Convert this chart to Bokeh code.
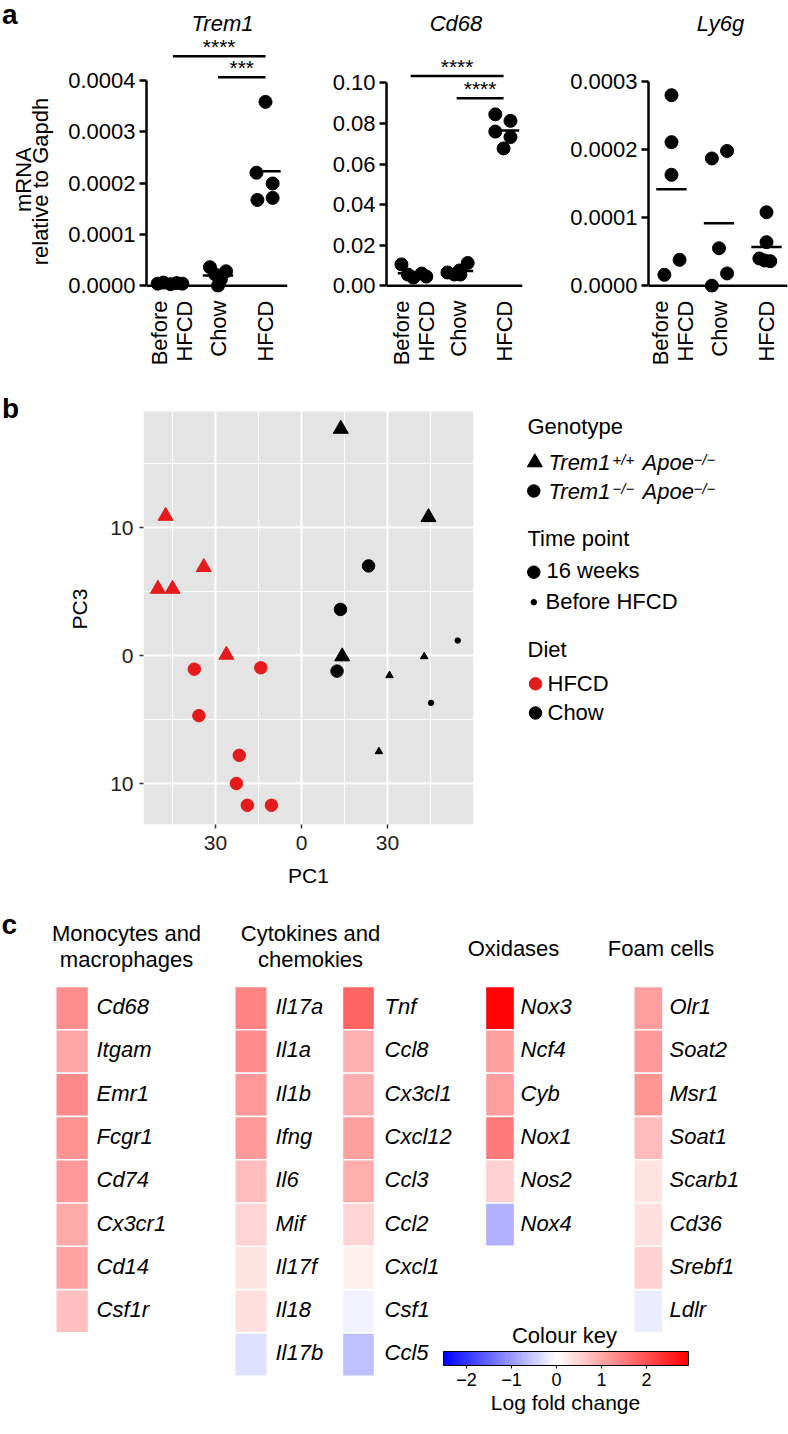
import numpy as np
from math import pi
from bokeh.plotting import figure
from bokeh.models import (Range1d, FixedTicker, Span, ColumnDataSource,
                          LinearColorMapper, ColorBar, NumeralTickFormatter)
from bokeh.layouts import column, row
from bokeh.embed import file_html
from bokeh.resources import INLINE
from bokeh.core.properties import value, field

FONT = "Liberation Sans"
BASE_SHIFT = 0.37   # raise alphabetic-baseline texts by this fraction of their size

# ===================== Panel a data =====================
a_groups = ["Before HFCD", "Chow", "HFCD"]
a_tick_pos = [0.76, 1.3, 2, 3]
a_tick_text = ["Before", "HFCD", "Chow", "HFCD"]

trem1_before = [0.000004, 0.000006, 0.000003, 0.000005, 0.000004]
trem1_chow = [0.000036, 0.000028, 0.000022, 0.000012, 0.000000]
trem1_hfcd = [0.000358, 0.000220, 0.000199, 0.000167, 0.000171]

cd68_before = [0.0105, 0.0055, 0.0060, 0.0040, 0.0045]
cd68_chow = [0.0065, 0.0055, 0.0055, 0.0075, 0.0112]
cd68_hfcd = [0.0845, 0.0813, 0.0760, 0.0733, 0.0677]

ly6g_before = [0.000280, 0.000211, 0.000163, 0.000016, 0.000038]
ly6g_chow = [0.000187, 0.000198, 0.000055, 0.000000, 0.000018]
ly6g_hfcd = [0.000108, 0.000064, 0.000040, 0.000036, 0.000037]

# horizontal jitter of the dots inside each group (category units)
trem1_jitter = [[-0.27, -0.15, 0.0, 0.13, 0.25], [-0.17, 0.17, -0.06, 0.06, 0.0], [0.0, -0.19, 0.15, -0.17, 0.15]]
cd68_jitter = [[-0.24, -0.1, 0.2, 0.02, 0.3], [-0.24, -0.09, 0.04, 0.02, 0.2], [-0.2, 0.13, -0.2, 0.13, -0.02]]
ly6g_jitter = [[0.0, 0.0, 0.0, -0.15, 0.17], [-0.15, 0.17, 0.0, -0.15, 0.17], [0.0, 0.0, -0.15, 0.08, -0.04]]

# significance brackets: (label, from group, to group, height)
trem1_sig = [("****", 1.05, 3.0, 0.000447), ("***", 2.0, 3.0, 0.000406)]
cd68_sig = [("****", 0.96, 2.98, 0.1034), ("****", 1.96, 2.98, 0.0925)]
ly6g_sig = []

# ===================== Panel b data =====================
pc1 = [-47.4, -34.1, -50.1, -45.0, -26.2,
       -37.4, -14.2, -35.8, -21.7, -22.7, -18.9, -10.5,
       13.7, 44.3, 14.2,
       23.4, 13.6, 12.4,
       42.8, 30.7, 27.0,
       54.5, 45.2]
pc3 = [10.9, 6.9, 5.2, 5.2, 0.05,
       -1.07, -0.96, -4.7, -7.8, -10.0, -11.7, -11.7,
       17.7, 10.8, -0.08,
       7.0, 3.6, -1.22,
       -0.08, -1.56, -7.5,
       1.17, -3.7]
genotype = (["Trem1+/+"] * 5 + ["Trem1-/-"] * 7 + ["Trem1+/+"] * 3 + ["Trem1-/-"] * 3
            + ["Trem1+/+"] * 3 + ["Trem1-/-"] * 2)
timepoint = ["16 weeks"] * 18 + ["Before HFCD"] * 5
diet = ["HFCD"] * 12 + ["Chow"] * 11
pb_x_ticks = [-30, 0, 30]
pb_x_tick_text = ["30", "0", "30"]
pb_y_ticks = [-10, 0, 10]
pb_y_tick_text = ["10", "0", "10"]

# ===================== Panel c data =====================
mono_genes = ["Cd68", "Itgam", "Emr1", "Fcgr1", "Cd74", "Cx3cr1", "Cd14", "Csf1r"]
mono_lfc = [1.30, 1.03, 1.37, 1.23, 1.18, 0.98, 1.05, 0.72]
cyto1_genes = ["Il17a", "Il1a", "Il1b", "Ifng", "Il6", "Mif", "Il17f", "Il18", "Il17b"]
cyto1_lfc = [1.41, 1.32, 1.17, 1.16, 0.76, 0.49, 0.33, 0.36, -0.31]
cyto2_genes = ["Tnf", "Ccl8", "Cx3cl1", "Cxcl12", "Ccl3", "Ccl2", "Cxcl1", "Csf1", "Ccl5"]
cyto2_lfc = [1.78, 0.91, 0.93, 1.10, 0.95, 0.49, 0.17, -0.15, -0.62]
oxi_genes = ["Nox3", "Ncf4", "Cyb", "Nox1", "Nos2", "Nox4"]
oxi_lfc = [2.90, 1.09, 1.11, 1.53, 0.54, -0.78]
foam_genes = ["Olr1", "Soat2", "Msr1", "Soat1", "Scarb1", "Cd36", "Srebf1", "Ldlr"]
foam_lfc = [1.11, 1.16, 1.21, 0.77, 0.33, 0.36, 0.52, -0.19]
key_ticks = [-2, -1, 0, 1, 2]
key_tick_text = ["\u22122", "\u22121", "0", "1", "2"]
key_low, key_high = -2.51, 2.93


# ===================== helpers =====================
def txt(p, x, y, s, size=22, style="normal", align="left", baseline="alphabetic",
        color="black", angle=0):
    off = -BASE_SHIFT * size if baseline == "alphabetic" else 0
    p.text(x=[x], y=[y], text=[s], text_font=value(FONT), text_font_size="%dpx" % size,
           text_font_style=style, text_align=align, text_baseline=baseline,
           text_color=color, angle=angle, y_offset=off)


def blank(width, height, xr, yr, bt=0, bb=0):
    p = figure(width=width, height=height, x_range=Range1d(*xr), y_range=Range1d(*yr),
               output_backend="svg", toolbar_location=None,
               x_axis_location=None, y_axis_location=None,
               min_border_left=0, min_border_right=0, min_border_top=bt, min_border_bottom=bb)
    p.outline_line_color = None
    p.grid.grid_line_color = None
    return p


A_H, A_BT, A_BB = 368, 0, 68          # row a: frame from y=0 to y=300 (page px)


def dot_panel(gene, series, jitters, page_left, width, bl, br, g1_px, ppc, upp,
              yticks, yfmt, sigs, title_px):
    frame_top = A_BT
    frame_bot = A_H - A_BB
    zero = frame_bot - 7
    fl = page_left + bl
    fr = page_left + width - br

    def X(px):
        return 1 + (px - g1_px) / ppc

    def Y(py):
        return (zero - py) * upp

    p = figure(width=width, height=A_H,
               x_range=Range1d(X(fl), X(fr)), y_range=Range1d(Y(frame_bot), Y(frame_top)),
               output_backend="svg", toolbar_location=None,
               min_border_left=bl, min_border_right=br, min_border_top=A_BT, min_border_bottom=A_BB)
    p.outline_line_color = None
    p.xgrid.grid_line_color = None
    p.ygrid.grid_line_color = None

    yax = p.yaxis[0]
    yax.ticker = FixedTicker(ticks=yticks)
    yax.formatter = NumeralTickFormatter(format=yfmt)
    yax.bounds = (0, yticks[-1])
    yax.axis_line_width = 2.5
    yax.major_tick_line_width = 2.5
    yax.major_tick_out = 7
    yax.major_tick_in = 0
    yax.minor_tick_line_color = None
    yax.major_label_text_font = FONT
    yax.major_label_text_font_size = "22px"
    yax.major_label_text_color = "black"
    yax.major_label_standoff = 4

    xax = p.xaxis[0]
    xax.ticker = FixedTicker(ticks=a_tick_pos)
    xax.major_label_overrides = dict(zip(a_tick_pos, a_tick_text))
    xax.major_label_orientation = pi / 2
    xax.axis_line_color = None
    xax.major_tick_line_color = None
    xax.minor_tick_line_color = None
    xax.major_label_standoff = 2
    xax.major_label_text_font = FONT
    xax.major_label_text_font_size = "22px"
    xax.major_label_text_color = "black"

    p.add_layout(Span(location=0, dimension="width", line_color="black", line_width=2.5))

    for gi, (vals, jit) in enumerate(zip(series, jitters)):
        g = gi + 1
        p.scatter([g + j for j in jit], vals, size=13, color="black")
        m = float(np.mean(vals))
        p.segment(x0=[g - 0.32], x1=[g + 0.32], y0=[m], y1=[m], line_width=2.5, color="black")

    for stars, x0, x1, yv in sigs:
        p.segment(x0=[x0], x1=[x1], y0=[yv], y1=[yv], line_width=2.5, color="black")
        p.text(x=[(x0 + x1) / 2], y=[yv], text=[stars], y_offset=-1.5 - BASE_SHIFT * 21,
               text_font=value(FONT), text_font_size="21px", text_align="center",
               text_baseline="alphabetic", text_color="black")

    txt(p, X(title_px), Y(31.5), gene, style="italic", align="center")
    return p


# strip with panel letter and y-axis title (page-pixel coordinates)
sA = blank(60, A_H, (0, 60), (A_H - A_BB, 0), bt=A_BT, bb=A_BB)
txt(sA, 1.5, 14, "a", size=28, style="bold", baseline="middle")
txt(sA, 22.5, 184, "mRNA", align="center", baseline="middle", angle=pi / 2)
txt(sA, 39.5, 186, "relative to Gapdh", align="center", baseline="middle", angle=pi / 2)

a1 = dot_panel("Trem1", [trem1_before, trem1_chow, trem1_hfcd], trem1_jitter,
               60, 240, 86, 13, 170, 47.5, 0.0001 / 52.75,
               [0, 0.0001, 0.0002, 0.0003, 0.0004], "0.0000", trem1_sig, 222)
a2 = dot_panel("Cd68", [cd68_before, cd68_chow, cd68_hfcd], cd68_jitter,
               300, 260, 86, 38, 412, 46, 0.02 / 41.66,
               [0, 0.02, 0.04, 0.06, 0.08, 0.10], "0.00", cd68_sig, 455.5)
a3 = dot_panel("Ly6g", [ly6g_before, ly6g_chow, ly6g_hfcd], ly6g_jitter,
               560, 228, 88, 1, 671, 47.5, 0.0001 / 69.9,
               [0, 0.0001, 0.0002, 0.0003], "0.0000", ly6g_sig, 720)

# ===================== Panel b =====================
B_TOP, B_H, B_BT, B_BB = 368, 527, 25, 71      # frame from page y 393 to 824
RED = "#e41a1c"
marker_of = {"Trem1+/+": "triangle", "Trem1-/-": "circle"}
size_of = {("triangle", "16 weeks"): 15, ("circle", "16 weeks"): 12.5,
           ("triangle", "Before HFCD"): 7.5, ("circle", "Before HFCD"): 5.5}
color_of = {"HFCD": RED, "Chow": "black"}
mk = [marker_of[g] for g in genotype]
src_b = ColumnDataSource(dict(
    pc1=pc1, pc3=pc3, marker=mk,
    size=[size_of[(m, t)] for m, t in zip(mk, timepoint)],
    color=[color_of[d] for d in diet]))

px_x, px_y = 86 / 30, 12.8                     # pixels per PC unit
pb_xr = (-(301 - 143) / px_x, (473 - 301) / px_x)
pb_panel_top = (655 - 411) / px_y
pb_yr = (-(824 - 655) / px_y, (655 - 393) / px_y)

pb = figure(width=430, height=B_H, x_range=Range1d(*pb_xr), y_range=Range1d(*pb_yr),
            output_backend="svg", toolbar_location=None,
            min_border_left=83, min_border_right=17, min_border_top=B_BT, min_border_bottom=B_BB)
pb.background_fill_color = "white"
pb.outline_line_color = None
pb.quad(left=[pb_xr[0]], right=[pb_xr[1]], bottom=[pb_yr[0]], top=[pb_panel_top],
        fill_color="#e4e4e4", line_color=None, level="image")
pb.xaxis.ticker = FixedTicker(ticks=pb_x_ticks, minor_ticks=[-45, -15, 15, 45])
pb.yaxis.ticker = FixedTicker(ticks=pb_y_ticks, minor_ticks=[-5, 5, 15])
pb.xaxis.major_label_overrides = dict(zip(pb_x_ticks, pb_x_tick_text))
pb.yaxis.major_label_overrides = dict(zip(pb_y_ticks, pb_y_tick_text))
for g in (pb.xgrid[0], pb.ygrid[0]):
    g.grid_line_color = "white"
    g.grid_line_width = 2
    g.minor_grid_line_color = "white"
    g.minor_grid_line_width = 1.2
for ax in (pb.xaxis[0], pb.yaxis[0]):
    ax.axis_line_color = None
    ax.major_tick_line_color = "#333333"
    ax.major_tick_line_width = 1.5
    ax.major_tick_out = 4
    ax.major_tick_in = 0
    ax.minor_tick_line_color = None
    ax.major_label_text_font = FONT
    ax.major_label_text_font_size = "21px"
    ax.major_label_text_color = "#222222"
    ax.axis_label_text_font = FONT
    ax.axis_label_text_font_size = "21px"
    ax.axis_label_text_font_style = "normal"
    ax.axis_label_text_color = "black"
pb.xaxis.axis_label = "PC1"
pb.yaxis.axis_label = "PC3"
pb.xaxis.major_label_standoff = 7
pb.yaxis.major_label_standoff = 6
pb.xaxis.axis_label_standoff = 11
pb.yaxis.axis_label_standoff = 16
pb.scatter("pc1", "pc3", marker=field("marker"), size="size", color="color", source=src_b)

sB = blank(60, B_H, (0, 60), (B_TOP + B_H - B_BB, B_TOP + B_BT), bt=B_BT, bb=B_BB)
txt(sB, 1.5, 418, "b", size=28, style="bold")

# ---- legend for panel b (page-pixel coordinates) ----
leg = blank(298, B_H, (490, 788), (B_TOP + B_H - B_BB, B_TOP + B_BT), bt=B_BT, bb=B_BB)
txt(leg, 527, 434.5, "Genotype")
leg.scatter([534.3], [462], marker="triangle", size=15, color="black")
txt(leg, 548, 470, "Trem1", style="italic")
txt(leg, 612, 465, "+/+", size=15, style="italic")
txt(leg, 642, 470, "Apoe", style="italic")
txt(leg, 693, 465, "\u2212/\u2212", size=15, style="italic")
leg.scatter([533.3], [490.5], marker="circle", size=12.5, color="black")
txt(leg, 548, 499, "Trem1", style="italic")
txt(leg, 612, 494, "\u2212/\u2212", size=15, style="italic")
txt(leg, 642, 499, "Apoe", style="italic")
txt(leg, 693, 494, "\u2212/\u2212", size=15, style="italic")
txt(leg, 527, 546.5, "Time point")
leg.scatter([533.3], [571.7], marker="circle", size=12.5, color="black")
txt(leg, 546, 578.5, "16 weeks")
leg.scatter([533.3], [601.7], marker="circle", size=5.5, color="black")
txt(leg, 545, 609, "Before HFCD")
txt(leg, 527, 657.5, "Diet")
leg.scatter([535], [683.3], marker="circle", size=12.5, color=RED)
txt(leg, 547, 690.7, "HFCD")
leg.scatter([535], [712.5], marker="circle", size=12.5, color="black")
txt(leg, 547, 720, "Chow")

# ===================== Panel c =====================
pal = []
for i in range(256):
    v = key_low + (key_high - key_low) * i / 255
    if v < 0:
        c = int(round(255 * (1 - v / key_low)))
        pal.append("#%02x%02x%02x" % (c, c, 255))
    else:
        c = int(round(255 * (1 - v / key_high)))
        pal.append("#%02x%02x%02x" % (255, c, c))
mapper = LinearColorMapper(palette=pal, low=key_low, high=key_high)

C_TOP, C_H = 895, 535
pc = blank(788, C_H, (0, 788), (C_TOP + C_H, C_TOP))

row_top, row_h = 986, 43.3
heat_cols = [
    (mono_genes, mono_lfc, 56, 31.3, 96),
    (cyto1_genes, cyto1_lfc, 235, 31, 275),
    (cyto2_genes, cyto2_lfc, 342.7, 30.6, 384),
    (oxi_genes, oxi_lfc, 485.7, 27.6, 520),
    (foam_genes, foam_lfc, 634, 27.7, 669),
]
hx, hy, hw, hv, lx, ly, ln = [], [], [], [], [], [], []
for genes, vals, left, w, lab_x in heat_cols:
    for i, (gname, v) in enumerate(zip(genes, vals)):
        cy = row_top + (i + 0.5) * row_h
        hx.append(left + w / 2)
        hy.append(cy)
        hw.append(w)
        hv.append(v)
        lx.append(lab_x)
        ly.append(cy + 6.5)
        ln.append(gname)
src_c = ColumnDataSource(dict(x=hx, y=hy, w=hw, v=hv))
pc.rect(x="x", y="y", width="w", height=row_h - 1.6, source=src_c,
        fill_color={"field": "v", "transform": mapper}, line_color=None)
pc.text(x=lx, y=ly, text=ln, text_font=value(FONT), text_font_size="22px",
        text_font_style="italic", text_align="left", text_baseline="alphabetic",
        text_color="black", y_offset=-BASE_SHIFT * 22)

txt(pc, 126, 940.7, "Monocytes and", align="center")
txt(pc, 126, 967.3, "macrophages", align="center")
txt(pc, 310, 940.7, "Cytokines and", align="center")
txt(pc, 310, 967.3, "chemokies", align="center")
txt(pc, 513, 956, "Oxidases", align="center")
txt(pc, 660.5, 956, "Foam cells", align="center")
txt(pc, 1, 934, "c", size=28, style="bold")

txt(pc, 564, 1343, "Colour key", align="center")
cb = ColorBar(color_mapper=mapper, orientation="horizontal", width=245, height=14,
              location=(443, 42), padding=0, title=None,
              ticker=FixedTicker(ticks=key_ticks),
              major_label_overrides=dict(zip(key_ticks, key_tick_text)),
              major_label_text_font=FONT, major_label_text_font_size="18px",
              major_label_text_color="black", label_standoff=4,
              major_tick_line_color="black", major_tick_out=3, major_tick_in=0,
              bar_line_color="black", bar_line_width=1,
              background_fill_color=None, border_line_color=None)
pc.add_layout(cb)
txt(pc, 565, 1410, "Log fold change", size=21, align="center")

layout = column(row(sA, a1, a2, a3), row(sB, pb, leg), pc)
open("out.html", "w").write(file_html(layout, INLINE, title="Trem1 figure"))
